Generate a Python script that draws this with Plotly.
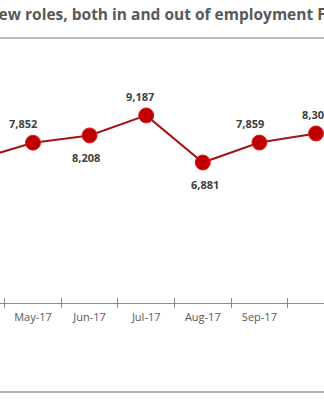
import plotly.graph_objects as go

# Monthly count of new roles
months = ["Apr-17", "May-17", "Jun-17", "Jul-17", "Aug-17", "Sep-17", "Oct-17"]
new_roles = [7018, 7852, 8208, 9187, 6881, 7859, 8304]

# data-label placement: side of the marker and horizontal nudge in pixels
label_side = ["above", "above", "below", "above", "below", "above", "above"]
label_nudge = [0, -10, -4, -6, 2, -9, 0]

title_text = "New roles, both in and out of employment F"

FONT = "Open Sans"
LINE_RED = "#A31515"
MARKER_RED = "#C00000"
AXIS_GREY = "#8C8C8C"
TEXT_GREY = "#595959"

W, H = 324, 400
TOP, BOTTOM = 58, 97
plot_h = H - TOP - BOTTOM

idx = list(range(len(months)))
bounds = [i + 0.5 for i in range(-1, len(months))]

fig = go.Figure()
fig.add_trace(go.Scatter(
    x=idx, y=new_roles, mode="lines+markers",
    line=dict(color=LINE_RED, width=2),
    marker=dict(size=15, color=MARKER_RED, line=dict(color="#D42020", width=1)),
    hoverinfo="skip", showlegend=False,
))
# empty trace so the overlaid tick axis is rendered
fig.add_trace(go.Scatter(x=[], y=[], xaxis="x2", yaxis="y", showlegend=False))

for i, v in enumerate(new_roles):
    fig.add_annotation(
        x=i, y=v, xref="x", yref="y", text=f"{v:,}", showarrow=False,
        yshift=19 if label_side[i] == "above" else -22,
        xshift=label_nudge[i],
        font=dict(family=FONT, size=11, color="#404040", weight="bold"),
    )

# heading, positioned in pixels and converted to paper coordinates
fig.add_annotation(
    text=title_text, x=-16 / W, y=1 + (TOP - 14) / plot_h,
    xref="paper", yref="paper", xanchor="left", yanchor="middle",
    showarrow=False,
    font=dict(family=FONT, size=15.5, color=TEXT_GREY, weight="bold"),
)

x_range = [0.417, 0.417 + W / 56.6]

fig.update_layout(
    width=W, height=H,
    margin=dict(l=0, r=0, t=TOP, b=BOTTOM),
    paper_bgcolor="white", plot_bgcolor="white",
    font=dict(family=FONT, color=TEXT_GREY),
    xaxis=dict(
        range=x_range, tickmode="array", tickvals=idx, ticktext=months,
        ticks="", showgrid=False, zeroline=False,
        showline=True, linecolor=AXIS_GREY, linewidth=1,
        tickfont=dict(family=FONT, size=11, color=TEXT_GREY),
        ticklabelstandoff=4,
        minor=dict(tickmode="array", tickvals=bounds, ticks="outside",
                   ticklen=4, tickcolor=AXIS_GREY, tickwidth=1, showgrid=False),
    ),
    xaxis2=dict(
        overlaying="x", matches="x", anchor="y", side="bottom",
        tickmode="array", tickvals=bounds, ticks="inside", ticklen=5,
        tickcolor=AXIS_GREY, tickwidth=1, showticklabels=False,
        showgrid=False, zeroline=False, showline=False,
    ),
    yaxis=dict(range=[0, 12000], visible=False, showgrid=False, zeroline=False),
)

# separator rule under the heading and frame rule at the bottom
rule_top = 1 + (TOP - 38) / plot_h
rule_bottom = -(392 - (H - BOTTOM)) / plot_h
fig.add_shape(type="line", xref="paper", yref="paper",
              x0=0, x1=1, y0=rule_top, y1=rule_top,
              line=dict(color="#A6A6A6", width=1.5))
fig.add_shape(type="line", xref="paper", yref="paper",
              x0=0, x1=1, y0=rule_bottom, y1=rule_bottom,
              line=dict(color="#B0B0B0", width=2))

fig.write_html("out.html")
